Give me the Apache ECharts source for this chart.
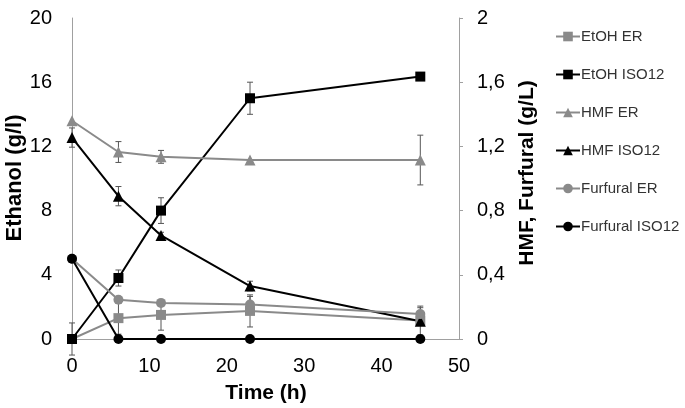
<!DOCTYPE html>
<html><head><meta charset="utf-8">
<script src="https://cdn.jsdelivr.net/npm/echarts@6/dist/echarts.min.js"></script>
<style>html,body{margin:0;padding:0;background:#fff}#c{width:685px;height:408px}</style>
</head><body><div id="c"></div>
<script>
const times = [0, 6, 11.5, 23, 45];
const xTicks = [0, 10, 20, 30, 40, 50];
const leftTicks = [0, 4, 8, 12, 16, 20];
const rightTicks = ['0', '0,4', '0,8', '1,2', '1,6', '2'];

const etohER = [0, 1.3, 1.5, 1.75, 1.15];
const etohERerr = [1.0, 1.0, 0.95, 1.0, 0.9];
const etohISO = [0, 3.8, 8.0, 15.0, 16.35];
const etohISOerr = [0, 0.5, 0.8, 1.0, 0];
const hmfER = [1.36, 1.165, 1.135, 1.115, 1.115];
const hmfERerr = [0, 0.065, 0.04, 0, 0.155];
const hmfISO = [1.255, 0.89, 0.645, 0.33, 0.11];
const hmfISOerr = [0.06, 0.06, 0.02, 0.03, 0];
const furER = [0.5, 0.245, 0.225, 0.215, 0.155];
const furERerr = [0, 0.02, 0.015, 0.05, 0.04];
const furISO = [0.5, 0, 0, 0, 0];
const furISOerr = [0, 0, 0, 0, 0];

const GRAY = '#8a8a8a', BLACK = '#000000';
const FONT = 'Liberation Sans, Arial, sans-serif';

function pairs(vals){ return times.map((t,i)=>[t, vals[i]]); }
function errData(vals, errs){ return times.map((t,i)=>[t, vals[i]-errs[i], vals[i]+errs[i]]).filter((d,i)=>errs[i]>0); }

function errSeries(vals, errs, color, yIdx){
  return {
    type: 'custom', yAxisIndex: yIdx, z: 1, silent: true,
    renderItem: function(params, api){
      const x = api.value(0);
      const lo = api.coord([x, api.value(1)]);
      const hi = api.coord([x, api.value(2)]);
      const w = 3;
      const st = {stroke: color, lineWidth: 1};
      return {type:'group', children:[
        {type:'line', shape:{x1:lo[0], y1:lo[1], x2:hi[0], y2:hi[1]}, style:st},
        {type:'line', shape:{x1:lo[0]-w, y1:lo[1], x2:lo[0]+w, y2:lo[1]}, style:st},
        {type:'line', shape:{x1:hi[0]-w, y1:hi[1], x2:hi[0]+w, y2:hi[1]}, style:st}
      ]};
    },
    encode: {x: 0, y: [1, 2]},
    data: errData(vals, errs)
  };
}

function lineSeries(name, vals, color, symbol, size, yIdx){
  return {
    name: name, type: 'line', yAxisIndex: yIdx, data: pairs(vals),
    symbol: symbol, symbolSize: size, showSymbol: true, z: 3,
    lineStyle: {color: color, width: 2},
    itemStyle: {color: color}
  };
}

const chart = echarts.init(document.getElementById('c'), null, {renderer: 'canvas'});
const tickFont = {fontFamily: FONT, fontSize: 20, color: '#000'};
chart.setOption({
  animation: false,
  backgroundColor: '#fff',
  grid: {left: 72, right: 226, top: 18, bottom: 69, containLabel: false},
  legend: {
    orient: 'vertical', left: 555, top: 29, padding: 0, itemGap: 23, itemWidth: 24, itemHeight: 12,
    textStyle: {fontFamily: FONT, fontSize: 15, color: '#333', padding: [0,0,0,-4]},
    data: ['EtOH ER', 'EtOH ISO12', 'HMF ER', 'HMF ISO12', 'Furfural ER', 'Furfural ISO12']
  },
  xAxis: {
    type: 'value', min: 0, max: 50, interval: 10,
    axisLine: {show: true, onZero: false, lineStyle: {color: '#a0a0a0', width: 1}},
    axisTick: {show: false},
    splitLine: {show: false},
    axisLabel: Object.assign({margin: 17, formatter: v => xTicks.includes(v) ? String(v) : ''}, tickFont)
  },
  yAxis: [
    {
      type: 'value', min: 0, max: 20, interval: 4, position: 'left',
      axisLine: {show: true, lineStyle: {color: '#a0a0a0', width: 1}},
      axisTick: {show: false}, splitLine: {show: false},
      axisLabel: Object.assign({margin: 20, formatter: v => leftTicks.includes(v) ? String(v) : ''}, tickFont)
    },
    {
      type: 'value', min: 0, max: 2, interval: 0.4, position: 'right',
      axisLine: {show: true, lineStyle: {color: '#a0a0a0', width: 1}},
      axisTick: {show: true, inside: false, length: 4, lineStyle: {color: '#a0a0a0'}},
      splitLine: {show: false},
      axisLabel: Object.assign({margin: 18, formatter: (v) => rightTicks[Math.round(v/0.4)]}, tickFont)
    }
  ],
  graphic: [
    {type: 'text', rotation: Math.PI/2, style: {text: 'Ethanol (g/l)', font: 'bold 22px ' + FONT, fill: '#000', textAlign: 'center', textVerticalAlign: 'middle'}, position: [15, 178]},
    {type: 'text', rotation: Math.PI/2, style: {text: 'HMF, Furfural (g/L)', font: 'bold 21px ' + FONT, fill: '#000', textAlign: 'center', textVerticalAlign: 'middle'}, position: [527, 173]},
    {type: 'text', style: {text: 'Time (h)', font: 'bold 21px ' + FONT, fill: '#000', textAlign: 'center', textVerticalAlign: 'middle'}, position: [266, 393]}
  ],
  series: [
    errSeries(etohER, etohERerr, '#555', 0),
    errSeries(etohISO, etohISOerr, '#555', 0),
    errSeries(hmfER, hmfERerr, '#555', 1),
    errSeries(hmfISO, hmfISOerr, '#555', 1),
    errSeries(furER, furERerr, '#555', 1),
    errSeries(furISO, furISOerr, '#555', 1),
    lineSeries('EtOH ER', etohER, GRAY, 'rect', 10, 0),
    lineSeries('EtOH ISO12', etohISO, BLACK, 'rect', 10, 0),
    lineSeries('HMF ER', hmfER, GRAY, 'triangle', 11, 1),
    lineSeries('HMF ISO12', hmfISO, BLACK, 'triangle', 11, 1),
    lineSeries('Furfural ER', furER, GRAY, 'circle', 10, 1),
    lineSeries('Furfural ISO12', furISO, BLACK, 'circle', 10, 1)
  ]
});
</script></body></html>
